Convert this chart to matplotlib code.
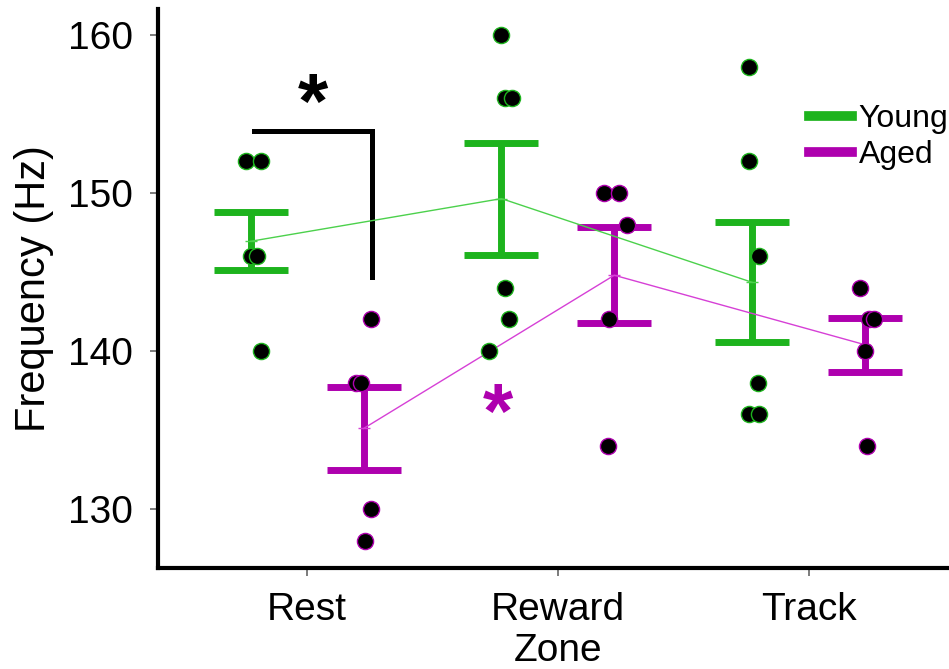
import matplotlib
matplotlib.use('Agg')
import matplotlib.pyplot as plt
import numpy as np

plt.rcParams['font.family'] = ['Liberation Sans', 'DejaVu Sans']

# categorias
zonas = ['Rest', 'Reward\nZone', 'Track']

# medias y error
young_mean = [146.95, 149.65, 144.35]
young_sem = [1.83, 3.55, 3.8]
aged_mean = [135.1, 144.8, 140.4]
aged_sem = [2.65, 3.05, 1.7]

# puntos individuales por zona
young_pts = [[152, 152, 146, 146, 140],
             [160, 156, 156, 144, 142, 140],
             [158, 152, 146, 138, 136, 136]]
aged_pts = [[142, 138, 138, 130, 128],
            [150, 150, 148, 142, 134],
            [144, 142, 142, 140, 134]]

# desplazamiento de cada punto respecto a su barra
young_jit = [[-0.02, 0.04, 0.0, 0.025, 0.04],
             [-0.002, 0.015, 0.04, 0.013, 0.03, -0.05],
             [-0.012, -0.012, 0.028, 0.022, -0.014, 0.028]]
aged_jit = [[0.03, -0.03, -0.01, 0.03, 0.004],
            [-0.042, 0.018, 0.05, -0.022, -0.025],
            [-0.02, 0.017, 0.037, -0.002, 0.007]]

verde = '#1db31d'
morado = '#ae00ae'
verde_l = '#4cd14c'
morado_l = '#d640d6'

x = np.arange(len(zonas))
off = 0.225

fig = plt.figure(figsize=(9.49, 6.69), dpi=100)
ax = fig.add_axes([0.1665, 0.151, 0.8335, 0.8355])

# lineas de medias
ax.plot(x - off, young_mean, color=verde_l, lw=1.0, marker='_', ms=9, mew=1, zorder=3)
ax.plot(x + off, aged_mean, color=morado_l, lw=1.0, marker='_', ms=9, mew=1, zorder=3)

# barras de error
ax.errorbar(x - off, young_mean, yerr=young_sem, fmt='none', ecolor=verde,
            elinewidth=5, capsize=26.5, capthick=5, zorder=2)
ax.errorbar(x + off, aged_mean, yerr=aged_sem, fmt='none', ecolor=morado,
            elinewidth=5, capsize=26.5, capthick=5, zorder=2)

# puntos
for i in range(len(zonas)):
    ax.scatter(x[i] - off + np.array(young_jit[i]), young_pts[i], s=135,
               color='black', edgecolors=verde, linewidths=1.0, zorder=4)
    ax.scatter(x[i] + off + np.array(aged_jit[i]), aged_pts[i], s=135,
               color='black', edgecolors=morado, linewidths=1.0, zorder=4)

# leyenda con lineas gruesas
ax.plot([], [], color=verde, lw=7, label='Young')
ax.plot([], [], color=morado, lw=7, label='Aged')
ax.legend(loc='upper right', bbox_to_anchor=(0.999, 0.83), frameon=False,
          fontsize=23, handlelength=1.35, handletextpad=0.2,
          labelspacing=0.2, borderpad=0, borderaxespad=0)

# corchete de significancia y asteriscos
ax.plot([-0.212, 0.258, 0.258], [153.94, 153.94, 144.7], color='black',
        lw=3.6, solid_joinstyle='miter', zorder=1)
ax.text(0.024, 155.4, '*', fontsize=56, fontweight='bold', ha='center',
        va='center', color='black')
ax.text(0.76, 135.8, '*', fontsize=56, fontweight='bold', ha='center',
        va='center', color=morado)

ax.set_xlim(-0.595, 2.56)
ax.set_ylim(126.27, 161.65)
ax.set_yticks([130, 140, 150, 160])
ax.set_xticks(x)
ax.set_xticklabels(zonas, linespacing=1.2)
ax.set_ylabel('Frequency (Hz)', fontsize=30, labelpad=10)

ax.spines['top'].set_visible(False)
ax.spines['right'].set_visible(False)
ax.spines['left'].set_linewidth(3)
ax.spines['bottom'].set_linewidth(3)
ax.tick_params(axis='both', labelsize=28, length=6, width=1.2, color='#666666')
ax.tick_params(axis='y', pad=12)
ax.tick_params(axis='x', pad=11)

fig.savefig('out.png', dpi=100)
